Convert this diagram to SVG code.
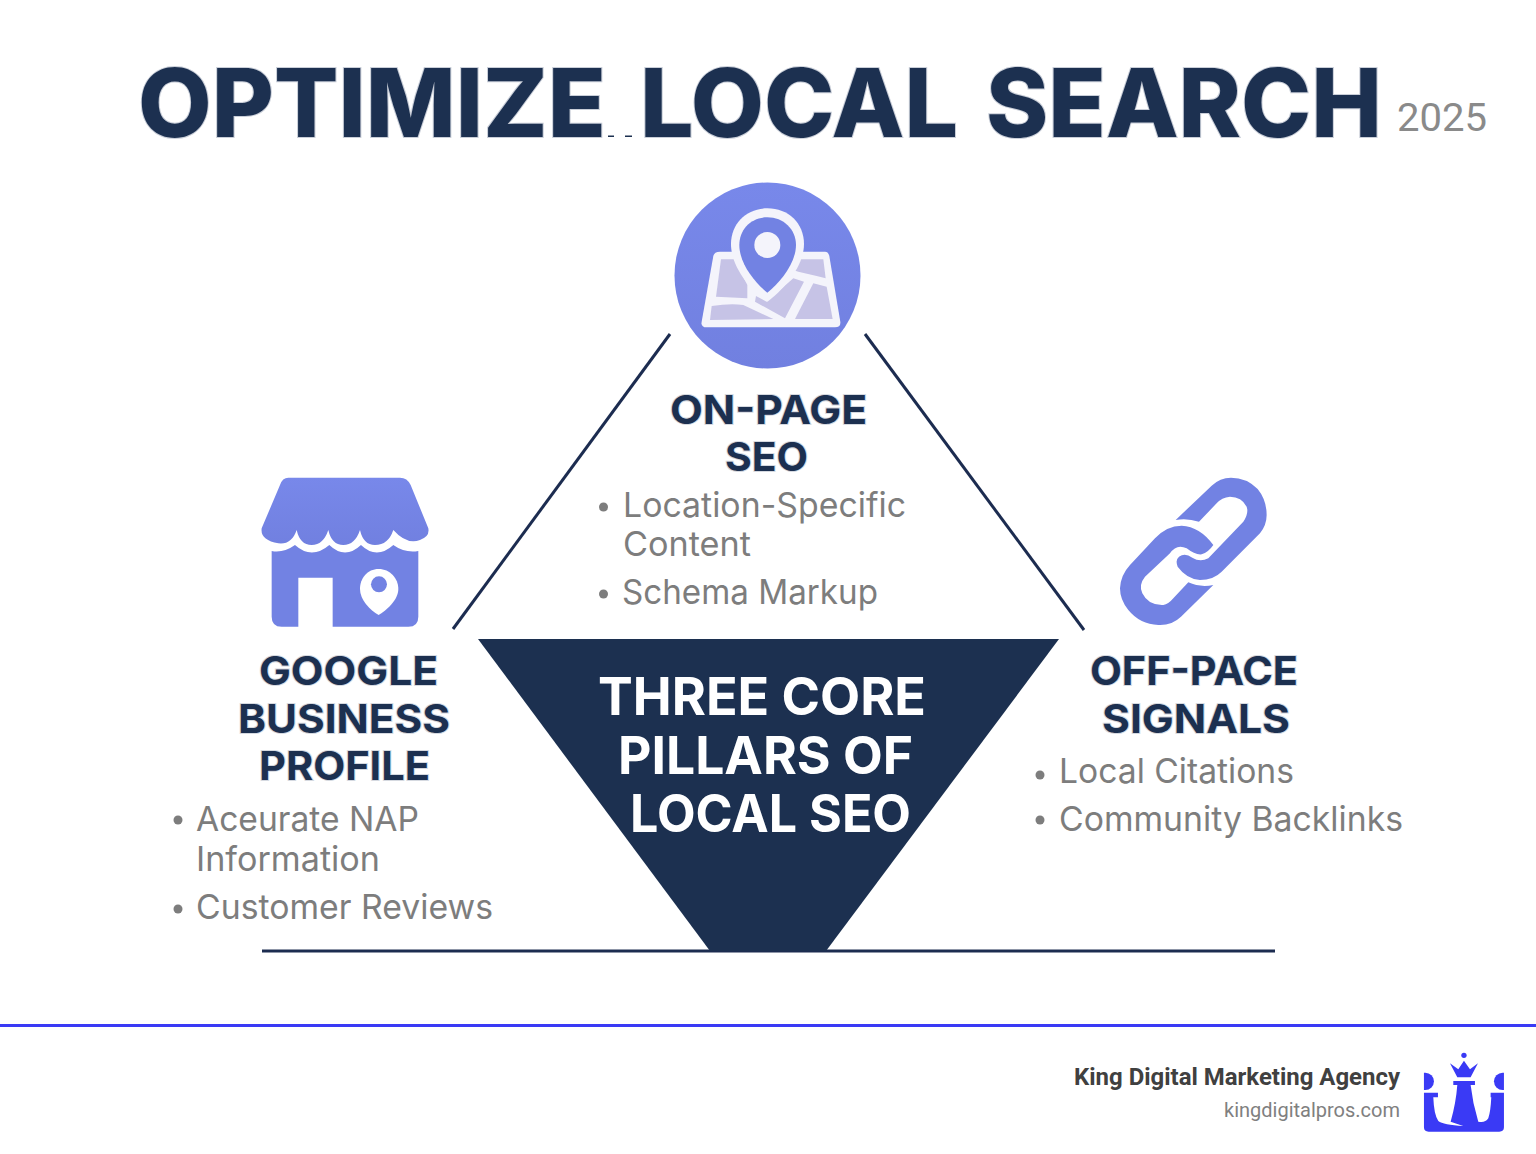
<svg xmlns="http://www.w3.org/2000/svg" width="1536" height="1154" viewBox="0 0 1536 1154">
<defs>
<linearGradient id="lav" x1="0" y1="0" x2="0" y2="1"><stop offset="0" stop-color="#7888ea"/><stop offset="1" stop-color="#7180e0"/></linearGradient>
</defs>
<style>
.title{font-family:Inter,"Liberation Sans",sans-serif;font-weight:800;font-size:95px;fill:#1c3050;stroke:#c9ced8;stroke-width:2;paint-order:stroke}
.head{font-family:Inter,"Liberation Sans",sans-serif;font-weight:700;font-size:40px;fill:#1c3050;stroke:#d5d9e0;stroke-width:2;paint-order:stroke}
.core{font-family:Inter,"Liberation Sans",sans-serif;font-weight:700;font-size:52px;fill:#fff}
.item{font-family:Inter,"Liberation Sans",sans-serif;font-weight:400;font-size:34px;fill:#7d7d7d}
.dot{fill:#7d7d7d}
.ico{fill:url(#lav)}
.blue{fill:#7282e3}
.wht{fill:#f4f4fb}
.pur{fill:#c6c3e6}
.ln{stroke:#1c2c50;stroke-width:3;fill:none}
</style>
<rect width="1536" height="1154" fill="#fff"/>
<g id="title">
<text class="title" x="138" y="137" textLength="468" lengthAdjust="spacingAndGlyphs">OPTIMIZE</text>
<text class="title" x="640" y="137" textLength="318" lengthAdjust="spacingAndGlyphs">LOCAL</text>
<text class="title" x="986" y="137" textLength="396" lengthAdjust="spacingAndGlyphs">SEARCH</text>
<rect x="608" y="135.500" width="6" height="1.500" fill="#1c3050"/><rect x="625" y="135.500" width="7" height="1.500" fill="#1c3050"/>
<text x="1397" y="131" textLength="90" lengthAdjust="spacingAndGlyphs" font-family="Roboto,'Liberation Sans',sans-serif" font-size="38" fill="#8a8a8a">2025</text>
</g>
<g id="connectors">
<path class="ln" d="M670 334L453 629"/>
<path class="ln" d="M865 334L1084 630"/>
<path class="ln" d="M262 951H1275"/>
</g>
<g id="center">
<path d="M478 639H1059L826 951H710Z" fill="#1c3050"/>
<text class="core" x="598" y="715" textLength="328" lengthAdjust="spacingAndGlyphs">THREE CORE</text>
<text class="core" x="618" y="773.500" textLength="295" lengthAdjust="spacingAndGlyphs">PILLARS OF</text>
<text class="core" x="630" y="831.500" textLength="281" lengthAdjust="spacingAndGlyphs">LOCAL SEO</text>
</g>
<g id="on-page">
<circle cx="767.500" cy="275.500" r="93" class="ico"/>
<g transform="translate(660 170) scale(.3333)">
<path class="wht" d="M180 245H495Q505 245 508 258L541 455Q543 472 525 472H140Q122 472 125 455L160 258Q163 245 180 245Z"/>
<path class="pur" d="M183 268H222L262 345V385L168 380Z"/>
<path class="pur" d="M420 268H490L497 325L470 318L415 305L400 300Z"/>
<path class="pur" d="M288 378L320 395L400 325L432 335L375 445L285 395Z"/>
<path class="pur" d="M460 340L500 350L518 447H405Z"/>
<path class="pur" d="M155 408Q210 400 250 405L340 447L150 450Z"/>
<path class="wht" d="M322 115C385 115 432 160 432 222C432 290 370 360 322 395C270 360 213 290 213 222C213 160 260 115 322 115Z"/>
<path class="blue" d="M322 142C370 142 408 178 408 225C408 280 360 338 322 368C284 338 238 280 238 225C238 178 274 142 322 142Z"/>
<circle cx="322" cy="225" r="39" class="wht"/>
</g>
<text class="head" x="670" y="423.500" textLength="197" lengthAdjust="spacingAndGlyphs">ON-PAGE</text>
<text class="head" x="725" y="470.500" textLength="83" lengthAdjust="spacingAndGlyphs">SEO</text>
<circle class="dot" cx="603.500" cy="507" r="4.500"/>
<text class="item" x="623" y="516.500" textLength="283" lengthAdjust="spacingAndGlyphs">Location-Specific</text>
<text class="item" x="623" y="555.500" textLength="128" lengthAdjust="spacingAndGlyphs">Content</text>
<circle class="dot" cx="603.500" cy="594" r="4.500"/>
<text class="item" x="622" y="603.500" textLength="256" lengthAdjust="spacingAndGlyphs">Schema Markup</text>
</g>
<g id="google-business-profile">
<g transform="translate(250 465) scale(.3333)">
<path class="ico" d="M115 38H450Q472 38 482 60L535 190Q540 215 510 225Q470 240 430 195Q415 240 375 240Q340 240 330 195Q315 240 280 240Q245 240 235 195Q220 240 185 240Q150 240 140 195Q125 240 85 235Q30 225 35 190L90 60Q97 38 115 38Z"/>
<path class="blue" d="M65 258Q100 265 135 240Q185 285 238 240Q285 285 333 240Q380 285 430 240Q465 265 505 258V455Q505 485 475 485H248V338H145V485H95Q65 485 65 455Z"/>
<path fill="#fff" d="M386 312C420 312 445 340 445 372C445 405 410 435 386 450C360 435 330 405 330 372C330 340 352 312 386 312Z"/>
<circle cx="387" cy="358" r="24" class="blue"/>
</g>
<text class="head" x="259" y="685" textLength="179" lengthAdjust="spacingAndGlyphs">GOOGLE</text>
<text class="head" x="238" y="733" textLength="212" lengthAdjust="spacingAndGlyphs">BUSINESS</text>
<text class="head" x="259" y="780" textLength="171" lengthAdjust="spacingAndGlyphs">PROFILE</text>
<circle class="dot" cx="178" cy="820" r="4.500"/>
<text class="item" x="196" y="830.500" textLength="223" lengthAdjust="spacingAndGlyphs">Aceurate NAP</text>
<text class="item" x="196" y="871" textLength="184" lengthAdjust="spacingAndGlyphs">Information</text>
<circle class="dot" cx="178" cy="909" r="4.500"/>
<text class="item" x="196" y="919" textLength="297" lengthAdjust="spacingAndGlyphs">Customer Reviews</text>
</g>
<g id="off-page-signals">
<g transform="translate(1105 465) scale(.3333)">
<path class="blue" d="M212 165L320 62Q345 38 378 38Q425 38 458 72Q485 105 485 150Q485 180 465 205L350 320Q325 345 285 345Q245 342 218 305Q210 285 222 275Q240 262 262 278Q285 292 310 280L415 170Q432 145 425 125Q410 95 375 95Q350 97 335 115L282 170Q245 158 212 165Z"/>
<path class="blue" d="M325 360L228 455Q200 482 160 480Q105 478 70 435Q45 405 45 370Q47 330 75 300L150 220Q185 182 230 182Q285 185 325 240Q310 262 290 268Q270 270 245 250Q215 235 195 265L120 335Q100 360 112 385Q130 422 175 420Q190 418 205 400L250 352Q285 368 325 360Z"/>
</g>
<text class="head" x="1090" y="685" textLength="208" lengthAdjust="spacingAndGlyphs">OFF-PACE</text>
<text class="head" x="1102" y="733" textLength="188" lengthAdjust="spacingAndGlyphs">SIGNALS</text>
<circle class="dot" cx="1040" cy="775" r="4.500"/>
<text class="item" x="1059" y="783" textLength="235" lengthAdjust="spacingAndGlyphs">Local Citations</text>
<circle class="dot" cx="1040" cy="820" r="4.500"/>
<text class="item" x="1059" y="830.500" textLength="344" lengthAdjust="spacingAndGlyphs">Community Backlinks</text>
</g>
<g id="footer">
<rect x="0" y="1024" width="1536" height="3" fill="#3a3af5"/>
<text x="1400" y="1085" text-anchor="end" font-family="Roboto,'Liberation Sans',sans-serif" font-weight="700" font-size="24" fill="#404040" textLength="326" lengthAdjust="spacingAndGlyphs">King Digital Marketing Agency</text>
<text x="1400" y="1117" text-anchor="end" font-family="Roboto,'Liberation Sans',sans-serif" font-size="20.500" fill="#808080" textLength="176" lengthAdjust="spacingAndGlyphs">kingdigitalpros.com</text>
<g transform="translate(1060 1040) scale(.3333)" fill="#3a3af5">
<path d="M1092 98H1096A26 26 0 0 1 1096 150H1092Z"/>
<path d="M1332 98H1328A26 26 0 0 0 1328 150H1332Z"/>
<path d="M1092 158H1134V172H1120Q1122 225 1135 243Q1150 255 1210 258L1172 245Q1188 190 1192 135H1180V123H1245V135H1232Q1238 190 1255 245Q1275 250 1285 235Q1292 215 1294 172H1292V158H1332V262Q1332 275 1318 275H1106Q1092 275 1092 262Z"/>
<path d="M1170 70L1195 88L1212 62L1230 88L1254 70L1232 112H1192Z"/>
<circle cx="1212" cy="46" r="8"/>
</g>
</g>
</svg>
